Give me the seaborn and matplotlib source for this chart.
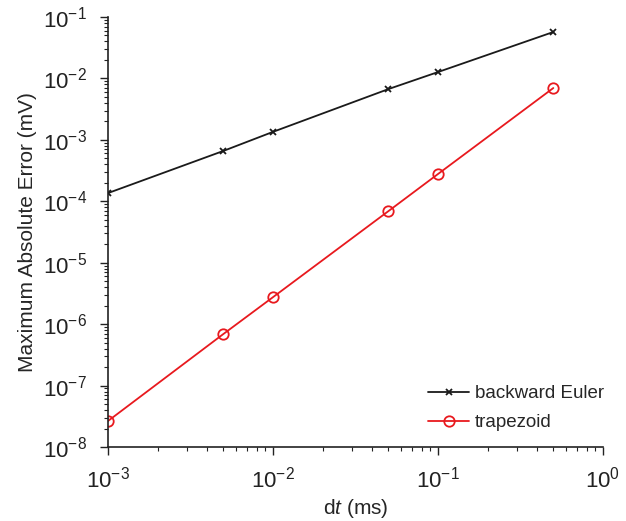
import matplotlib
matplotlib.use("Agg")
import matplotlib.pyplot as plt
import seaborn as sns
import pandas as pd

dt = [1e-3, 5e-3, 1e-2, 5e-2, 1e-1, 5e-1]
backward_euler = [1.36e-4, 6.6e-4, 1.35e-3, 6.7e-3, 1.27e-2, 5.7e-2]
trapezoid = [2.65e-8, 6.9e-7, 2.75e-6, 6.9e-5, 2.78e-4, 6.98e-3]
method_names = ["backward Euler", "trapezoid"]

sns.set_theme(style="ticks")
plt.rcParams["font.family"] = ["Liberation Sans", "DejaVu Sans"]
plt.rcParams["mathtext.fontset"] = "custom"
plt.rcParams["mathtext.rm"] = "Liberation Sans"
plt.rcParams["mathtext.it"] = "Liberation Sans:italic"
plt.rcParams["mathtext.bf"] = "Liberation Sans:bold"

df = pd.DataFrame({
    "dt": dt * 2,
    "err": backward_euler + trapezoid,
    "method": [method_names[0]] * len(dt) + [method_names[1]] * len(dt),
})

fig = plt.figure(figsize=(6.26, 5.21), dpi=100)
ax = fig.add_axes([108 / 626, (521 - 447) / 521, (603 - 108) / 626, (447 - 17) / 521])

palette = {method_names[0]: "#1a1a1a", method_names[1]: "#e8191e"}
markers = {method_names[0]: "x", method_names[1]: "o"}
for name in method_names:
    sub = df[df["method"] == name]
    sns.lineplot(data=sub, x="dt", y="err", ax=ax, color=palette[name],
                 marker=markers[name], markersize=5 if name == method_names[0] else 7.5,
                 markerfacecolor="none" if name == method_names[1] else palette[name],
                 markeredgecolor=palette[name], markeredgewidth=1.3,
                 linewidth=1.3, label=name)

ax.set_xscale("log")
ax.set_yscale("log")
ax.set_xlim(1e-3, 1e0)
ax.set_ylim(1e-8, 1e-1)
ax.set_xticks([1e-3, 1e-2, 1e-1, 1e0])
ax.set_yticks([10.0 ** k for k in range(-8, 0)])
ax.set_xlabel(r"d$\mathit{t}$ (ms)", fontsize=15, labelpad=3)
ax.set_ylabel("Maximum Absolute Error (mV)", fontsize=15, labelpad=4)
ax.tick_params(axis="both", which="major", labelsize=16, length=6, width=1,
               direction="out", color="#222222", labelcolor="#222222")
ax.tick_params(axis="x", which="major", pad=8)
ax.tick_params(axis="y", which="major", pad=9)
ax.tick_params(axis="both", which="minor", length=3, width=0.8, direction="out",
               color="#222222")
sns.despine(ax=ax)
for s in ("left", "bottom"):
    ax.spines[s].set_linewidth(1.2)
    ax.spines[s].set_color("#222222")

leg = ax.legend(loc="upper left", frameon=False, fontsize=13.5,
                handlelength=2.2, handletextpad=0.3, borderaxespad=0,
                borderpad=0, labelspacing=0.65,
                bbox_to_anchor=((428 - 108) / 495, (447 - 385) / 430))

fig.savefig("out.png", dpi=100)
